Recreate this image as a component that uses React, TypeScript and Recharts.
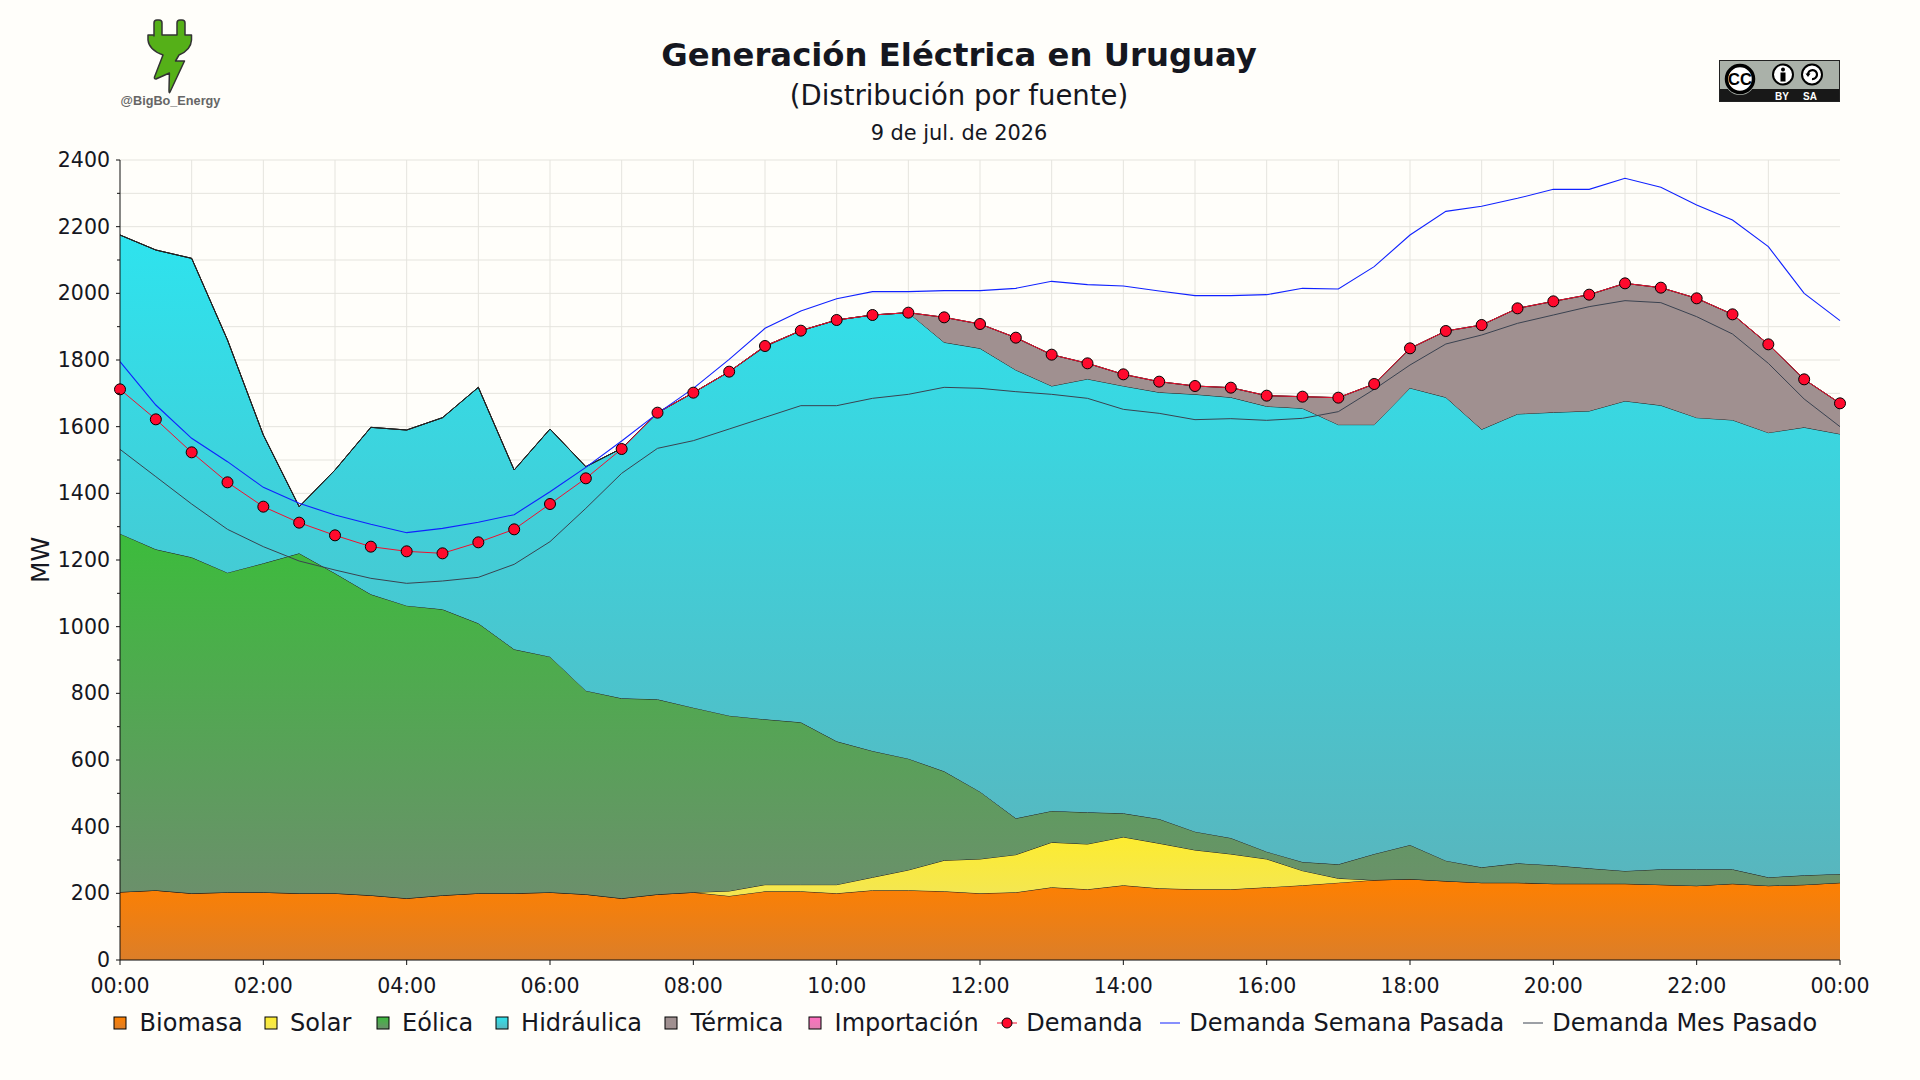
import React from 'react';
import { ComposedChart, Area, Line, XAxis, YAxis, CartesianGrid, Legend } from 'recharts';

const FONT = '"DejaVu Sans", sans-serif';
const INK = '#15171f';
const PAGE = '#fffefa';

const hours = [0, 0.5, 1, 1.5, 2, 2.5, 3, 3.5, 4, 4.5, 5, 5.5, 6, 6.5, 7, 7.5, 8, 8.5, 9, 9.5, 10, 10.5, 11, 11.5, 12, 12.5, 13, 13.5, 14, 14.5, 15, 15.5, 16, 16.5, 17, 17.5, 18, 18.5, 19, 19.5, 20, 20.5, 21, 21.5, 22, 22.5, 23, 23.5, 24];

const biomasa = [204, 209, 200, 203, 203, 200, 200, 194, 185, 194, 200, 200, 203, 197, 185, 197, 203, 192, 206, 206, 200, 209, 209, 206, 200, 203, 218, 212, 224, 215, 212, 212, 218, 224, 232, 240, 243, 237, 232, 232, 229, 229, 229, 226, 223, 229, 223, 226, 232];
const solar = [0, 0, 0, 0, 0, 0, 0, 0, 0, 0, 0, 0, 0, 0, 0, 0, 0, 15, 20, 20, 26, 39, 61, 93, 103, 113, 135, 136, 145, 135, 118, 106, 85, 44, 13, 0, 0, 0, 0, 0, 0, 0, 0, 0, 0, 0, 0, 0, 0];
const eolica = [1075, 1023, 1008, 959, 987, 1020, 960, 903, 878, 858, 810, 732, 707, 611, 600, 585, 554, 526, 496, 487, 430, 379, 334, 267, 202, 109, 94, 95, 71, 73, 55, 48, 22, 26, 42, 78, 102, 61, 46, 58, 55, 46, 38, 46, 49, 43, 25, 28, 26];
const hidraulica = [896, 898, 897, 698, 385, 140, 310, 501, 527, 575, 708, 538, 683, 672, 750, 860, 945, 1032, 1118, 1175, 1264, 1308, 1338, 1287, 1330, 1345, 1275, 1300, 1282, 1280, 1312, 1322, 1336, 1361, 1319, 1288, 1371, 1390, 1314, 1348, 1359, 1372, 1410, 1392, 1355, 1348, 1334, 1344, 1320];
const termica = [0, 0, 0, 0, 0, 0, 0, 0, 0, 0, 0, 0, 0, 0, 0, 0, 0, 0, 2, 0, 0, 0, 0, 75, 73, 97, 94, 47, 35, 32, 25, 29, 32, 35, 81, 122, 119, 199, 313, 317, 333, 349, 353, 353, 358, 317, 265, 144, 92];
const importacion = [0, 0, 0, 0, 0, 0, 0, 0, 0, 0, 0, 0, 0, 0, 0, 0, 0, 0, 0, 0, 0, 0, 0, 0, 0, 0, 0, 0, 0, 0, 0, 0, 0, 0, 0, 0, 0, 0, 0, 0, 0, 0, 0, 0, 0, 0, 0, 0, 0];
const demanda = [1712, 1622, 1523, 1433, 1360, 1312, 1274, 1240, 1226, 1220, 1253, 1292, 1368, 1445, 1533, 1642, 1702, 1765, 1842, 1888, 1920, 1935, 1942, 1928, 1908, 1867, 1816, 1790, 1757, 1735, 1722, 1717, 1693, 1690, 1687, 1728, 1835, 1887, 1905, 1955, 1976, 1996, 2030, 2017, 1985, 1937, 1847, 1742, 1670];
const semanaPasada = [1795, 1665, 1565, 1495, 1418, 1370, 1335, 1307, 1282, 1295, 1313, 1336, 1405, 1478, 1557, 1640, 1715, 1802, 1895, 1947, 1984, 2005, 2005, 2008, 2008, 2015, 2036, 2026, 2022, 2007, 1993, 1993, 1996, 2015, 2013, 2080, 2175, 2246, 2261, 2285, 2312, 2312, 2345, 2318, 2265, 2220, 2140, 2000, 1918];
const mesPasado = [1532, 1450, 1368, 1292, 1240, 1197, 1170, 1145, 1130, 1137, 1148, 1187, 1255, 1355, 1460, 1535, 1558, 1593, 1628, 1663, 1663, 1685, 1697, 1718, 1715, 1705, 1697, 1685, 1652, 1640, 1621, 1624, 1619, 1625, 1645, 1712, 1785, 1848, 1875, 1910, 1935, 1960, 1978, 1972, 1930, 1878, 1790, 1683, 1600];

const xTicks = [0, 2, 4, 6, 8, 10, 12, 14, 16, 18, 20, 22, 24];
const xGrid = [1, 2, 3, 4, 5, 6, 7, 8, 9, 10, 11, 12, 13, 14, 15, 16, 17, 18, 19, 20, 21, 22, 23];
const yTicks = [0, 100, 200, 300, 400, 500, 600, 700, 800, 900, 1000, 1100, 1200, 1300, 1400, 1500, 1600, 1700, 1800, 1900, 2000, 2100, 2200, 2300, 2400];

const data = hours.map((h, i) => ({
  h,
  biomasa: biomasa[i],
  solar: solar[i],
  eolica: eolica[i],
  hidraulica: hidraulica[i],
  termica: termica[i],
  importacion: importacion[i],
  demanda: demanda[i],
  semanaPasada: semanaPasada[i],
  mesPasado: mesPasado[i],
}));

const fmtHour = (h: number) => `${String(h % 24).padStart(2, '0')}:00`;

const gradients = [
  { id: 'gBiomasa', top: '#ff8000', bottom: '#dc7e28' },
  { id: 'gSolar', top: '#fdec30', bottom: '#f3e654' },
  { id: 'gEolica', top: '#3cbc3c', bottom: '#6c8f6c' },
  { id: 'gHidraulica', top: '#2ee3ee', bottom: '#58b6be' },
  { id: 'gTermica', top: '#a09090', bottom: '#a09090' },
  { id: 'gImportacion', top: '#ff70c0', bottom: '#e080b0' },
];

// legend layout: left edge of each entry, in legend order
const legendSlots: Record<string, number> = {
  Biomasa: 112,
  Solar: 262.5,
  'Eólica': 374.5,
  'Hidráulica': 493.5,
  'Térmica': 663,
  'Importación': 807,
  Demanda: 997,
  'Demanda Semana Pasada': 1160,
  'Demanda Mes Pasado': 1523,
};

function YTick({ x, y, payload }: any) {
  const v = payload.value;
  const major = v % 200 === 0;
  return (
    <g>
      <line x1={x + 10 - (major ? 4 : 3)} x2={x + 10} y1={y} y2={y} stroke="#111" />
      {major && (
        <text x={x} y={y + 7} textAnchor="end" fontSize={20.5} fontFamily={FONT} fill={INK}>{v}</text>
      )}
    </g>
  );
}

function LegendRow({ payload }: any) {
  return (
    <div style={{ position: 'relative', fontFamily: FONT, fontSize: 24, color: INK, whiteSpace: 'nowrap' }}>
      {payload.map((p: any) => (
        <div key={p.value} style={{ position: 'absolute', left: legendSlots[p.value], top: 0, display: 'flex', alignItems: 'center' }}>
          {p.type === 'rect' && (
            <svg width={16} height={16} style={{ marginRight: 11.6 }}>
              <rect x={2} y={2} width={12} height={12} fill={`url(#${p.payload.fillId})`} stroke="#000" />
            </svg>
          )}
          {p.type !== 'rect' && (
            <svg width={20} height={16} style={{ marginRight: 9.3 }}>
              <line x1={0} x2={20} y1={8} y2={8} stroke={p.color} />
              {p.type === 'circle' && <circle cx={10} cy={8} r={5} fill="#ff0a2d" stroke="#000" />}
            </svg>
          )}
          {p.value}
        </div>
      ))}
    </div>
  );
}

function PlugLogo() {
  return (
    <g>
      <path
        d="M154 36 V23 Q154 20 157 20 H159 Q162 20 162 23 V35 H177 V23 Q177 20 180 20 H182 Q185 20 185 23 V35 H191.500 V40 Q191 50 179 55 L175.500 61 L184.500 61 L170 92 Q169 94 169 90 L169.400 73 L156 79 Q154 79 154.500 77 L163 55 Q149 50 148 40 V35 H154 Z"
        fill="#55b018"
        stroke="#333"
        strokeWidth={1.5}
        strokeLinejoin="round"
      />
      <text x={170.500} y={104.500} textAnchor="middle" fontFamily="Liberation Sans" fontWeight="bold" fontSize={12.700} fill="#666">@BigBo_Energy</text>
    </g>
  );
}

function CcBadge() {
  return (
    <g>
      <rect x={1719} y={60} width={121} height={42} fill="#aab1a9" />
      <rect x={1719} y={89} width={121} height={13} fill="#181818" />
      <rect x={1719.500} y={60.500} width={120} height={41} fill="none" stroke="#222" />
      <circle cx={1740} cy={79.500} r={15.500} fill="#aab1a9" />
      <circle cx={1740} cy={79} r={13.500} fill="#fff" stroke="#000" strokeWidth={3.500} />
      <text x={1740} y={85} textAnchor="middle" fontFamily="Liberation Sans" fontWeight="bold" fontSize={16.500} fill="#000">CC</text>
      <circle cx={1783} cy={74.500} r={10} fill="#fff" stroke="#000" strokeWidth={2} />
      <circle cx={1783} cy={69.500} r={2} fill="#000" />
      <rect x={1780.500} y={72.500} width={5} height={9} fill="#000" />
      <circle cx={1812} cy={74.500} r={10} fill="#fff" stroke="#000" strokeWidth={2} />
      <path d="M1808 74.500 A4.500 4.500 0 1 1 1812 79" fill="none" stroke="#000" strokeWidth={2.200} />
      <path d="M1805.500 73.500 H1810.500 L1808 77 Z" fill="#000" />
      <text x={1782} y={99.500} textAnchor="middle" fontFamily="Liberation Sans" fontWeight="bold" fontSize={10} fill="#fff">BY</text>
      <text x={1810} y={99.500} textAnchor="middle" fontFamily="Liberation Sans" fontWeight="bold" fontSize={10} fill="#fff">SA</text>
    </g>
  );
}

export default function App() {
  return (
    <div style={{ position: 'absolute', left: 0, top: 0, width: 1920, height: 1080, background: PAGE, overflow: 'hidden' }}>
      <ComposedChart width={1920} height={1080} data={data} margin={{ top: 160, right: 80, bottom: 80, left: 60 }}>
        <defs>
          {gradients.map((g) => (
            <linearGradient key={g.id} id={g.id} x1="0" y1="0" x2="0" y2="1">
              <stop offset="0%" stopColor={g.top} />
              <stop offset="100%" stopColor={g.bottom} />
            </linearGradient>
          ))}
        </defs>
        <CartesianGrid stroke="#e5e4de" strokeWidth={1} verticalValues={xGrid} horizontalValues={yTicks} />
        <XAxis
          dataKey="h"
          type="number"
          domain={[0, 24]}
          ticks={xTicks}
          tickFormatter={fmtHour}
          height={40}
          tickSize={5}
          tickMargin={13}
          interval={0}
          stroke="#111"
          tick={{ fontSize: 20.5, fontFamily: FONT, fill: INK }}
        />
        <YAxis
          domain={[0, 2400]}
          ticks={yTicks}
          width={60}
          interval={0}
          tickSize={4}
          tickMargin={6}
          tickLine={false}
          stroke="#111"
          tick={<YTick />}
          label={{ value: 'MW', angle: -90, position: 'insideLeft', offset: -20, dy: 23, style: { fontSize: 25, fontFamily: FONT, fill: INK } }}
        />
        <Area dataKey="biomasa" name="Biomasa" stackId="gen" fill="url(#gBiomasa)" stroke="#222" fillOpacity={1} legendType="rect" isAnimationActive={false} fillId="gBiomasa" />
        <Area dataKey="solar" name="Solar" stackId="gen" fill="url(#gSolar)" stroke="#222" fillOpacity={1} legendType="rect" isAnimationActive={false} fillId="gSolar" />
        <Area dataKey="eolica" name="Eólica" stackId="gen" fill="url(#gEolica)" stroke="#222" fillOpacity={1} legendType="rect" isAnimationActive={false} fillId="gEolica" />
        <Area dataKey="hidraulica" name="Hidráulica" stackId="gen" fill="url(#gHidraulica)" stroke="#222" fillOpacity={1} legendType="rect" isAnimationActive={false} fillId="gHidraulica" />
        <Area dataKey="termica" name="Térmica" stackId="gen" fill="url(#gTermica)" stroke="#222" fillOpacity={1} legendType="rect" isAnimationActive={false} fillId="gTermica" />
        <Area dataKey="importacion" name="Importación" stackId="gen" fill="url(#gImportacion)" stroke="#222" fillOpacity={1} legendType="rect" isAnimationActive={false} fillId="gImportacion" />
        <Line dataKey="demanda" name="Demanda" stroke="#f01030" strokeWidth={1} dot={{ r: 5.5, fill: '#ff0a2d', stroke: '#000', strokeWidth: 1 }} activeDot={false} legendType="circle" isAnimationActive={false} />
        <Line dataKey="semanaPasada" name="Demanda Semana Pasada" stroke="#1022ff" strokeWidth={1.1} dot={false} activeDot={false} legendType="line" isAnimationActive={false} />
        <Line dataKey="mesPasado" name="Demanda Mes Pasado" stroke="#3a4250" strokeWidth={1} dot={false} activeDot={false} legendType="line" isAnimationActive={false} />
        <Legend
          layout="horizontal"
          verticalAlign="middle"
          align="center"
          content={<LegendRow />}
          wrapperStyle={{ top: 1009, left: 0, width: 1920, height: 36 }}
        />
      </ComposedChart>
      <svg width={1920} height={160} style={{ position: 'absolute', left: 0, top: 0 }}>
        <PlugLogo />
        <CcBadge />
        <text x={959} y={66} textAnchor="middle" fontFamily={FONT} fontWeight="bold" fontSize={32.3} fill={INK}>Generación Eléctrica en Uruguay</text>
        <text x={959} y={105} textAnchor="middle" fontFamily={FONT} fontSize={27.5} fill={INK}>(Distribución por fuente)</text>
        <text x={959} y={140} textAnchor="middle" fontFamily={FONT} fontSize={20.9} fill={INK}>9 de jul. de 2026</text>
      </svg>
    </div>
  );
}
